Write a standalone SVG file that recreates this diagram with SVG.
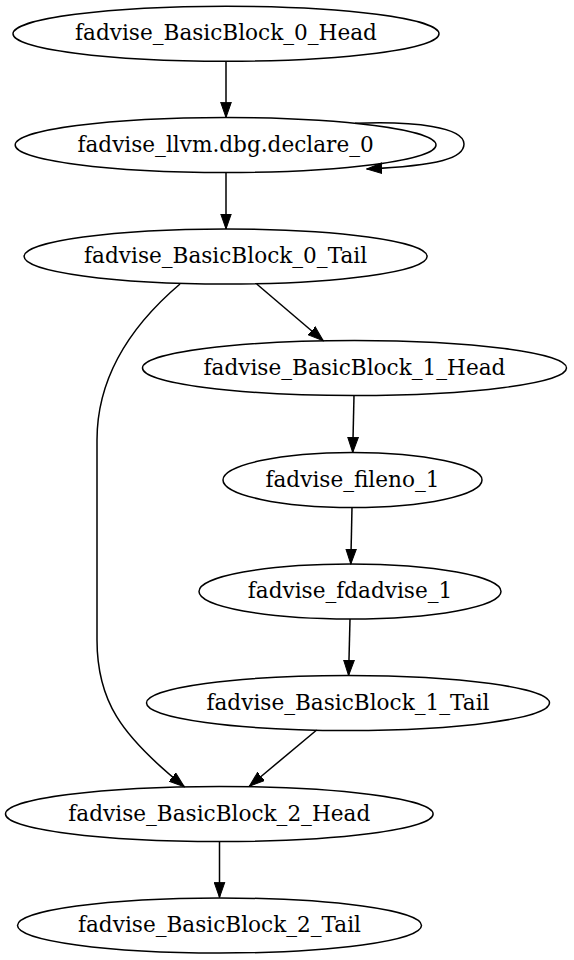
<svg xmlns="http://www.w3.org/2000/svg" width="574" height="960" viewBox="0 0 574 960">
<defs>
<marker id="arr" markerUnits="userSpaceOnUse" markerWidth="16" markerHeight="12" refX="15.3" refY="5.35" orient="auto" viewBox="0 0 16 10.7">
<path d="M0,0 L15.3,5.35 L0,10.7 Z" fill="#000" stroke="#000" stroke-width="1"/>
</marker>
<style>
.n ellipse { fill: none; stroke: #000; stroke-width: 1.5; }
.n text { font-family: "DejaVu Serif", "Liberation Serif", serif; font-size: 21.6px; text-anchor: middle; fill: #000; }
.e path { fill: none; stroke: #000; stroke-width: 1.5; marker-end: url(#arr); }
</style>
</defs>
<rect width="574" height="960" fill="#fff"/>
<g id="edges" class="e">
<path d="M226,61.3 L226,117.5"/>
<path d="M355,123.3 C415,121 464,127 464,144 C464,158 440,165.5 366.7,169"/>
<path d="M226,173 L226,229"/>
<path d="M256.7,284 L323.3,340.7"/>
<path d="M180,284 C140,318 97,370 97,440 L97,640 C97,700 120,735 184.3,786.7"/>
<path d="M354,395.5 L352.7,452.5"/>
<path d="M352,507.5 L350.8,564"/>
<path d="M350,619 L348.6,675.5"/>
<path d="M316.7,730 L249.3,786.3"/>
<path d="M219.5,841.5 L219.5,897.5"/>
</g>
<g id="n_bb0_head" class="n"><ellipse cx="226" cy="33.8" rx="213" ry="27.5"/><text x="226" y="40.3">fadvise_BasicBlock_0_Head</text></g>
<g id="n_dbg_declare" class="n"><ellipse cx="225.6" cy="145" rx="210.4" ry="27.5"/><text x="225.6" y="151.5">fadvise_llvm.dbg.declare_0</text></g>
<g id="n_bb0_tail" class="n"><ellipse cx="225.6" cy="256.5" rx="201.5" ry="27.5"/><text x="225.6" y="263">fadvise_BasicBlock_0_Tail</text></g>
<g id="n_bb1_head" class="n"><ellipse cx="354.5" cy="368" rx="212" ry="27.5"/><text x="354.5" y="374.5">fadvise_BasicBlock_1_Head</text></g>
<g id="n_fileno" class="n"><ellipse cx="352.5" cy="480" rx="129.5" ry="27.5"/><text x="352.5" y="486.5">fadvise_fileno_1</text></g>
<g id="n_fdadvise" class="n"><ellipse cx="350" cy="591.5" rx="151" ry="27.5"/><text x="350" y="598">fadvise_fdadvise_1</text></g>
<g id="n_bb1_tail" class="n"><ellipse cx="348" cy="703" rx="201.5" ry="27.5"/><text x="348" y="709.5">fadvise_BasicBlock_1_Tail</text></g>
<g id="n_bb2_head" class="n"><ellipse cx="219.3" cy="814" rx="213.8" ry="27.5"/><text x="219.3" y="820.5">fadvise_BasicBlock_2_Head</text></g>
<g id="n_bb2_tail" class="n"><ellipse cx="219.5" cy="925.5" rx="202" ry="27.5"/><text x="219.5" y="932">fadvise_BasicBlock_2_Tail</text></g>
</svg>
